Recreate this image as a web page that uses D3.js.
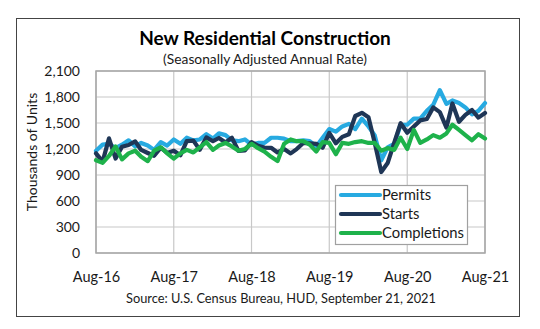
<!DOCTYPE html>
<html><head><meta charset="utf-8">
<script src="https://cdn.jsdelivr.net/npm/d3@7"></script>
<style>
body{margin:0;background:#fff;}
svg{display:block;font-family:Lato,"Open Sans",sans-serif;}
</style></head>
<body><svg id="c" width="540" height="329"></svg>
<script>
// Monthly data Aug-2016 .. Aug-2021 (thousands of units, SAAR)
const permits = [1180,1250,1260,1210,1250,1300,1230,1270,1240,1190,1280,1240,1310,
  1260,1330,1300,1310,1370,1320,1380,1360,1300,1290,1310,1250,1270,1270,1330,1330,
  1320,1290,1290,1300,1290,1230,1330,1430,1400,1460,1490,1430,1550,1460,1360,1070,
  1220,1260,1480,1480,1550,1550,1640,1710,1880,1720,1760,1730,1680,1600,1640,1730];
const starts = [1150,1054,1323,1090,1226,1246,1288,1189,1154,1122,1215,1155,1180,
  1127,1290,1297,1192,1334,1290,1327,1276,1329,1177,1184,1280,1236,1217,1214,1160,
  1200,1149,1199,1270,1265,1259,1215,1386,1266,1340,1371,1581,1617,1567,1276,934,
  1038,1273,1497,1388,1459,1530,1547,1680,1625,1447,1725,1514,1594,1650,1562,1615];
const completions = [1070,1040,1120,1230,1080,1150,1180,1110,1060,1180,1220,1150,1090,
  1150,1190,1160,1220,1280,1190,1240,1270,1230,1180,1200,1260,1210,1170,1110,1060,
  1260,1310,1290,1290,1250,1170,1280,1270,1140,1270,1260,1280,1290,1270,1270,1180,
  1210,1190,1330,1200,1420,1270,1310,1360,1330,1380,1480,1420,1360,1300,1370,1320];
const seriesNames = ["Permits","Starts","Completions"];
const seriesColors = ["#27aae1","#1f3656","#1eb24b"];
const xTickLabels = ["Aug-16","Aug-17","Aug-18","Aug-19","Aug-20","Aug-21"];
const yTicks = [0,300,600,900,1200,1500,1800,2100];

const months = d3.timeMonth.range(new Date(2016,7,1), new Date(2021,8,1));
const series = [permits, starts, completions];

const svg = d3.select("#c");
const L=96, R=485, T=71, B=253;
const x = d3.scaleTime().domain([new Date(2016,7,1), new Date(2021,7,1)]).range([L,R]);
const y = d3.scaleLinear().domain([0,2100]).range([B,T]);

// outer frame
svg.append("rect").attr("x",16.5).attr("y",18.5).attr("width",503).attr("height",298)
  .attr("fill","#fff").attr("stroke","#444").attr("stroke-width",1);

// gridlines
const xTickDates = xTickLabels.map((d,i)=>new Date(2016+i,7,1));
svg.append("g").selectAll("line").data(yTicks).join("line")
  .attr("x1",L).attr("x2",R).attr("y1",d=>y(d)).attr("y2",d=>y(d))
  .attr("stroke","#c8c8c8").attr("stroke-width",1.2);
svg.append("g").selectAll("line").data(xTickDates).join("line")
  .attr("x1",d=>x(d)).attr("x2",d=>x(d)).attr("y1",T).attr("y2",B)
  .attr("stroke","#c8c8c8").attr("stroke-width",1.2);
svg.append("rect").attr("x",L).attr("y",T).attr("width",R-L).attr("height",B-T)
  .attr("fill","none").attr("stroke","#a6a6a6").attr("stroke-width",1.5);

// axes
const ya = svg.append("g").attr("transform",`translate(${L-16},0)`)
  .call(d3.axisLeft(y).tickValues(yTicks).tickFormat(d3.format(",")).tickSize(0).tickPadding(0));
ya.select(".domain").remove();
ya.selectAll("text").attr("font-size",14).attr("fill","#1a1a1a").attr("font-family","Lato,sans-serif");

const xa = svg.append("g").attr("transform",`translate(0,${B+19})`)
  .call(d3.axisBottom(x).tickValues(xTickDates).tickFormat((d,i)=>xTickLabels[i]).tickSize(0).tickPadding(0));
xa.select(".domain").remove();
xa.selectAll("text").attr("font-size",14.5).attr("fill","#1a1a1a").attr("font-family","Lato,sans-serif");

// lines
const line = d3.line().x((d,i)=>x(months[i])).y(d=>y(d)).curve(d3.curveLinear);
series.forEach((s,k)=>{
  svg.append("path").datum(s).attr("d",line).attr("fill","none")
    .attr("stroke",seriesColors[k]).attr("stroke-width",4.2)
    .attr("stroke-linejoin","round").attr("stroke-linecap","round");
});
// legend
const lg = svg.append("g");
lg.append("rect").attr("x",335.5).attr("y",185.5).attr("width",132).attr("height",59)
  .attr("fill","#fff").attr("stroke","#a0a0a0").attr("stroke-width",1.2);
seriesNames.forEach((n,k)=>{
  const yy = 195 + k*19;
  lg.append("line").attr("x1",341).attr("x2",380).attr("y1",yy).attr("y2",yy)
    .attr("stroke",seriesColors[k]).attr("stroke-width",4.2).attr("stroke-linecap","round");
  lg.append("text").attr("x",382).attr("y",yy+5).text(n)
    .attr("font-size",14.8).attr("fill","#1a1a1a");
});

// titles
svg.append("text").attr("x",265).attr("y",45).attr("text-anchor","middle")
  .attr("font-size",19).attr("font-weight","bold").attr("fill","#000").text("New Residential Construction");
svg.append("text").attr("x",265).attr("y",64).attr("text-anchor","middle")
  .attr("font-size",13.8).attr("fill","#1a1a1a").text("(Seasonally Adjusted Annual Rate)");
svg.append("text").attr("transform","translate(37,152) rotate(-90)").attr("text-anchor","middle")
  .attr("font-size",14).attr("fill","#1a1a1a").text("Thousands of Units");
svg.append("text").attr("x",281).attr("y",303).attr("text-anchor","middle")
  .attr("font-size",12.8).attr("fill","#1a1a1a").text("Source:  U.S. Census Bureau, HUD, September 21, 2021");
</script></body></html>
